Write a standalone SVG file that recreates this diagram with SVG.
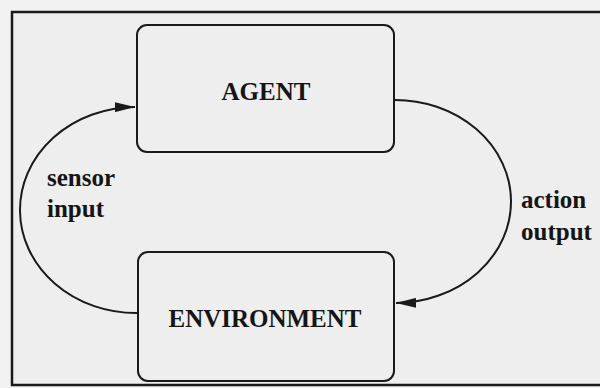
<svg xmlns="http://www.w3.org/2000/svg" width="600" height="388" viewBox="0 0 600 388">
  <style>
    .box { fill: none; stroke: #1a1a1a; stroke-width: 2; }
    .conn { fill: none; stroke: #1a1a1a; stroke-width: 2; }
    .title { font-family: "Liberation Serif", "Times New Roman", serif; font-weight: bold; font-size: 25px; fill: #151515; }
    .lbl { font-family: "Liberation Serif", "Times New Roman", serif; font-weight: bold; font-size: 25px; fill: #151515; }
  </style>
  <defs>
    <marker id="arrow" markerUnits="userSpaceOnUse" markerWidth="20" markerHeight="10" refX="20" refY="5" orient="auto">
      <path d="M0,0 L20,5 L0,10 Z" fill="#1a1a1a"/>
    </marker>
  </defs>
  <rect x="0" y="0" width="600" height="388" fill="#f2f2f2"/>
  <rect x="12" y="12" width="620" height="373" fill="#eeeeee" stroke="#1a1a1a" stroke-width="2.5"/>
  <g id="connectors">
    <path id="action-output" class="conn" d="M 394 100 A 116 101.5 0 0 1 396 303" marker-end="url(#arrow)"/>
    <path id="sensor-input" class="conn" d="M 137 313 A 116 103 0 0 1 135 107" marker-end="url(#arrow)"/>
  </g>
  <g id="agent">
    <rect class="box" x="137" y="25" width="257" height="127" rx="10" ry="10"/>
    <text class="title" x="266" y="100" text-anchor="middle">AGENT</text>
  </g>
  <g id="environment">
    <rect class="box" x="138" y="252" width="256" height="129" rx="10" ry="10"/>
    <text class="title" x="265" y="327" text-anchor="middle">ENVIRONMENT</text>
  </g>
  <g id="labels">
    <text class="lbl" x="47" y="186">sensor</text>
    <text class="lbl" x="47" y="217">input</text>
    <text class="lbl" x="521" y="208">action</text>
    <text class="lbl" x="521" y="240">output</text>
  </g>
</svg>
